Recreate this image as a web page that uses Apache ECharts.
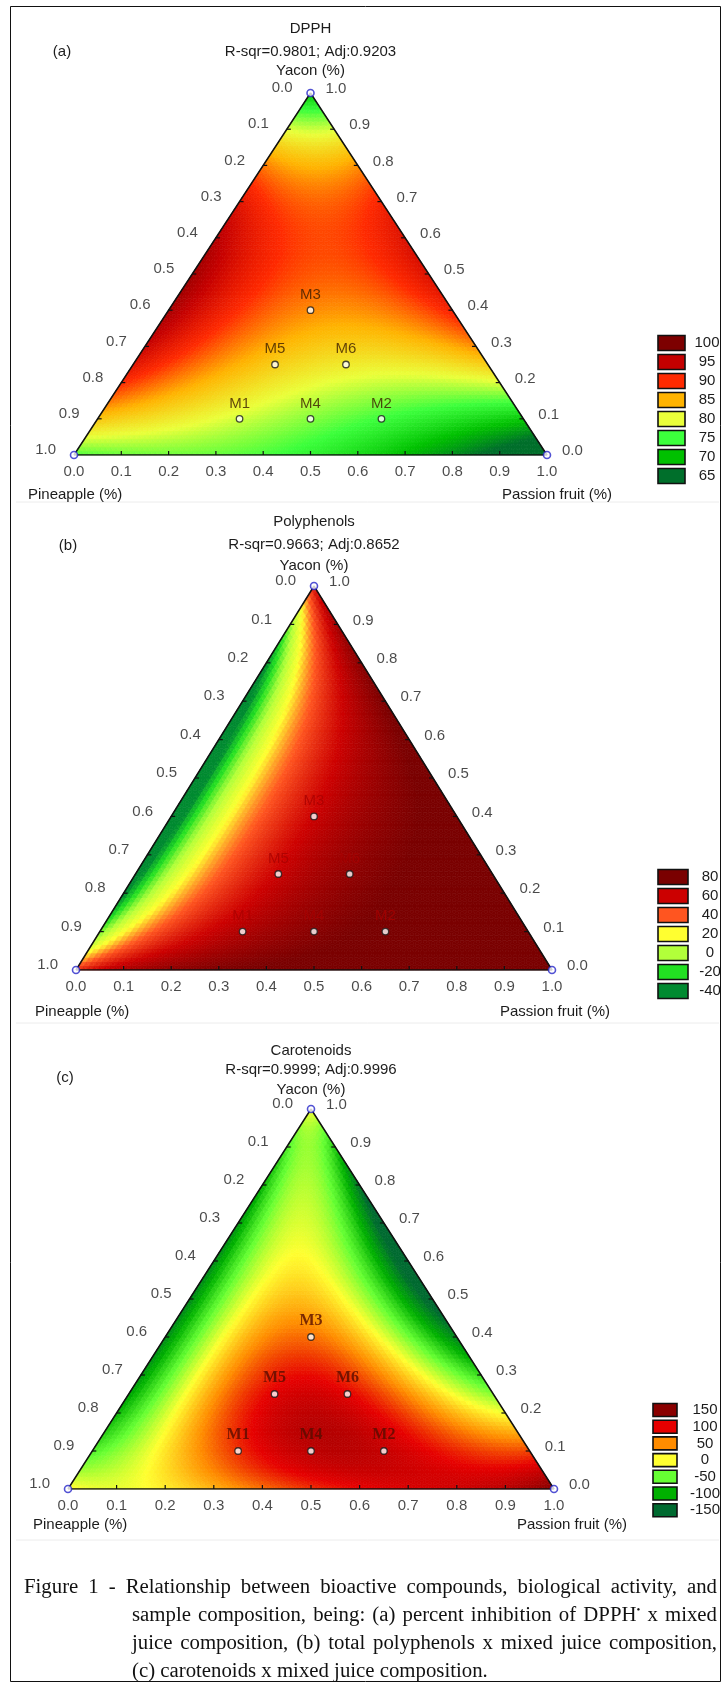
<!DOCTYPE html>
<html>
<head>
<meta charset="utf-8">
<script src="https://cdn.jsdelivr.net/npm/echarts@6/dist/echarts.min.js"></script>
<style>
  html, body { margin: 0; padding: 0; background: #fff; }
  #chart { position: absolute; left: 0; top: 0; width: 723px; height: 1683px; }
  #caption { position: absolute; left: 24px; top: 1572px; width: 693px;
    font-family: "Liberation Serif", "Times New Roman", serif; font-size: 20.8px;
    line-height: 28px; color: #111; }
  #caption .ln { text-align: justify; text-align-last: justify; white-space: nowrap; }
  #caption .ln.ind { margin-left: 108px; }
  #caption .ln.last { text-align-last: left; }
  #caption sup { font-size: 11px; line-height: 0; }
</style>
</head>
<body>
<div id="chart"></div>
<div id="caption">
  <div class="ln">Figure 1 - Relationship between bioactive compounds, biological activity, and</div>
  <div class="ln ind">sample composition, being: (a) percent inhibition of DPPH<sup>•</sup> x mixed</div>
  <div class="ln ind">juice composition, (b) total polyphenols x mixed juice composition,</div>
  <div class="ln ind last">(c) carotenoids x mixed juice composition.</div>
</div>
<script>
// ---- mixture design points (fractions of pineapple, passion fruit, yacon) ----
const sampleNames  = ['M1', 'M2', 'M3', 'M4', 'M5', 'M6'];
const pineapple    = [0.60, 0.30, 0.30, 0.45, 0.45, 0.30];
const passionFruit = [0.30, 0.60, 0.30, 0.45, 0.30, 0.45];
const yacon        = [0.10, 0.10, 0.40, 0.10, 0.25, 0.25];

// ---- ternary axis ticks ----
const tickValues = [0, 0.1, 0.2, 0.3, 0.4, 0.5, 0.6, 0.7, 0.8, 0.9, 1.0];

// ---- panel texts ----
const panelTitles = ['DPPH', 'Polyphenols', 'Carotenoids'];
const panelTags   = ['(a)', '(b)', '(c)'];
const fitStats    = ['R-sqr=0.9801; Adj:0.9203', 'R-sqr=0.9663; Adj:0.8652', 'R-sqr=0.9999; Adj:0.9996'];
const axisNames   = ['Pineapple (%)', 'Passion fruit (%)', 'Yacon (%)'];

// ---- contour legends ----
const dpphLevels = [100, 95, 90, 85, 80, 75, 70, 65];
const dpphColors = ['#7d0000', '#c40000', '#ff2a00', '#ffb300', '#eaff3a', '#3cff3c', '#00c000', '#006f2b'];
const polyLevels = [80, 60, 40, 20, 0, -20, -40];
const polyColors = ['#7a0000', '#cc0000', '#ff5520', '#ffff30', '#b2ff3a', '#22e022', '#008a30'];
const caroLevels = [150, 100, 50, 0, -50, -100, -150];
const caroColors = ['#8a0000', '#e60000', '#ff8c00', '#ffff30', '#66ff33', '#00b000', '#006a30'];

// ---- fitted response-surface models ----
// monomial exponents of (pineapple, passion fruit, yacon)
const modelTerms = [
  [1,0,0], [0,1,0], [0,0,1],
  [1,1,0], [1,0,1], [0,1,1],
  [1,1,1],
  [2,1,0], [1,2,0], [0,2,1], [0,1,2],
  [2,2,0], [2,0,2], [0,2,2],
  [1,1,2], [1,1,6], [2,2,1], [2,1,1]
];
const dpphCoef = [78, 62, 73, 26, 98, 112, -270, 0, 0, 0, 0, 0, 0, 0, 0, 0, 0, 0];
const caroCoef = [5, 155, 0, -365, -821.7, -862, 3200, -83, 83, 250, -250, 1500, 1167, -472, 3000, 22000, 6700, 3750];
// polyphenols: profile along the pineapple–yacon side rising towards a plateau with passion fruit
const polyEdge    = [60, 65, -774, 1137];
const polyPlateau = 95;
const polyRise    = [[0.45, 14], [0.55, 3.5]];

function scheffe(coef) {
  return function (x1, x2, x3) {
    let v = 0;
    for (let k = 0; k < modelTerms.length; k++) {
      const e = modelTerms[k];
      v += coef[k] * Math.pow(x1, e[0]) * Math.pow(x2, e[1]) * Math.pow(x3, e[2]);
    }
    return v;
  };
}
function polyphenolSurface(x1, x2, x3) {
  const s = x1 + x3;
  const t = s > 1e-9 ? x3 / s : 0.5;
  const u = t * (1 - t);
  const edge = polyEdge[0] * (1 - t) + polyEdge[1] * t + polyEdge[2] * u + polyEdge[3] * u * u;
  let decay = 0;
  for (const [w, k] of polyRise) decay += w * Math.pow(1 - x2, k);
  return polyPlateau - (polyPlateau - edge) * decay;
}

const MARK_SANS  = '"Liberation Sans", Arial, sans-serif';
const MARK_SERIF = '"Liberation Serif", "Times New Roman", serif';

// colour bands: each legend colour sits at the middle of its band (bandShift above the level)
const panels = [
  { surface: scheffe(dpphCoef), levels: dpphLevels, colors: dpphColors, bandShift: 2.5,
    grid: { left: 74, top: 93, width: 473, height: 362 },
    titleY: 29, rsqY: 52, yaconY: 71, tagX: 62, tagY: 52, nameY: 495, pineX: 28, passionR: 612,
    legX: 658, legW: 27, legH: 15, legY0: 343, legStep: 19, legTextX: 707,
    markColor: '#3a1c00', markFamily: MARK_SANS, markSize: 15, markWeight: 'normal' },
  { surface: polyphenolSurface, levels: polyLevels, colors: polyColors, bandShift: 10,
    grid: { left: 76, top: 586, width: 476, height: 384 },
    titleY: 522, rsqY: 545, yaconY: 566, tagX: 68, tagY: 546, nameY: 1012, pineX: 35, passionR: 610,
    legX: 658, legW: 30, legH: 15, legY0: 877, legStep: 19, legTextX: 710,
    markColor: '#a80000', markFamily: MARK_SANS, markSize: 15, markWeight: 'normal' },
  { surface: scheffe(caroCoef), levels: caroLevels, colors: caroColors, bandShift: 0,
    grid: { left: 68, top: 1109, width: 486, height: 380 },
    titleY: 1051, rsqY: 1070, yaconY: 1090, tagX: 65, tagY: 1078, nameY: 1525, pineX: 33, passionR: 627,
    legX: 653, legW: 24, legH: 13, legY0: 1410, legStep: 16.7, legTextX: 705,
    markColor: '#560c00', markFamily: MARK_SERIF, markSize: 16, markWeight: 'bold' }
];

// ternary -> cartesian (x along base, y = yacon)
function tern(pf, yac) { return [pf + yac / 2, yac]; }

const N = 90;
function latticeCells(surface) {
  const out = [];
  for (let j = 0; j < N; j++) {
    for (let i = 0; i + j < N; i++) {
      let pf = (3 * i + 1) / (3 * N), yc = (3 * j + 1) / (3 * N);
      out.push([i, j, 0, surface(1 - pf - yc, pf, yc)]);
      if (i + j < N - 1) {
        pf = (3 * i + 2) / (3 * N); yc = (3 * j + 2) / (3 * N);
        out.push([i, j, 1, surface(1 - pf - yc, pf, yc)]);
      }
    }
  }
  return out;
}
function renderCell(params, api) {
  const i = api.value(0), j = api.value(1), o = api.value(2);
  const pts = o === 0 ? [[i, j], [i + 1, j], [i, j + 1]] : [[i + 1, j], [i, j + 1], [i + 1, j + 1]];
  const poly = pts.map(p => api.coord(tern(p[0] / N, p[1] / N)));
  const c = api.visual('color');
  return { type: 'polygon', shape: { points: poly }, style: { fill: c, stroke: c, lineWidth: 0.7 } };
}
function renderTick(params, api) {
  const edge = api.value(0), v = api.value(1);
  let p, d;
  if (edge === 0) { p = api.coord(tern(v, 0)); d = [0, -4]; }
  else if (edge === 1) { p = api.coord(tern(0, 1 - v)); d = [4, 0]; }
  else { p = api.coord(tern(1 - v, v)); d = [-4, 0]; }
  return { type: 'line', shape: { x1: p[0], y1: p[1], x2: p[0] + d[0], y2: p[1] + d[1] },
           style: { stroke: '#111', lineWidth: 1.2 } };
}

const TEXT_FONT = '"Liberation Sans", Arial, sans-serif';
const grids = [], xAxes = [], yAxes = [], series = [], visualMaps = [], graphics = [];

function txt(x, y, text, extra) {
  return { type: 'text', x: x, y: y, silent: true, z: 100,
    style: Object.assign({ text: text, fill: '#1c1c1c', font: '15px ' + TEXT_FONT,
      textAlign: 'center', textVerticalAlign: 'middle', align: 'center', verticalAlign: 'middle' }, extra || {}) };
}

panels.forEach((P, k) => {
  grids.push(Object.assign({ containLabel: false }, P.grid));
  xAxes.push({ type: 'value', gridIndex: k, min: 0, max: 1, show: false });
  yAxes.push({ type: 'value', gridIndex: k, min: 0, max: 1, show: false });
  const base = { xAxisIndex: k, yAxisIndex: k };

  const surfIndex = series.length;
  series.push(Object.assign({ type: 'custom', name: panelTitles[k], renderItem: renderCell,
    data: latticeCells(P.surface), progressive: 0, silent: true, z: 1,
    encode: { x: -1, y: -1 } }, base));
  visualMaps.push({ type: 'continuous', show: false, seriesIndex: surfIndex, dimension: 3,
    min: P.levels[P.levels.length - 1] + P.bandShift, max: P.levels[0] + P.bandShift,
    inRange: { color: P.colors.slice().reverse() } });

  // triangle outline
  series.push(Object.assign({ type: 'line', data: [tern(0, 0), tern(1, 0), tern(0, 1), tern(0, 0)],
    symbol: 'none', silent: true, z: 5, lineStyle: { color: '#111', width: 1.5 } }, base));

  // tick marks
  const ticks = [];
  tickValues.slice(1, -1).forEach(v => { ticks.push([0, v]); ticks.push([1, v]); ticks.push([2, v]); });
  series.push(Object.assign({ type: 'custom', renderItem: renderTick, data: ticks, silent: true, z: 6,
    encode: { x: -1, y: -1 } }, base));

  const labelStyle = { show: true, color: '#1c1c1c', fontSize: 15, fontFamily: TEXT_FONT,
    formatter: p => p.value[2] };
  // passion fruit scale along the base
  series.push(Object.assign({ type: 'scatter', symbolSize: 0, silent: true, z: 7,
    data: tickValues.map(v => tern(v, 0).concat(v.toFixed(1))),
    label: Object.assign({ position: 'bottom', distance: 9 }, labelStyle) }, base));
  // pineapple scale along the left side
  series.push(Object.assign({ type: 'scatter', symbolSize: 0, silent: true, z: 7,
    data: tickValues.map(v => tern(0, 1 - v).concat(v.toFixed(1))),
    label: Object.assign({ position: 'left', distance: 18, offset: [0, -5] }, labelStyle) }, base));
  // yacon scale along the right side
  series.push(Object.assign({ type: 'scatter', symbolSize: 0, silent: true, z: 7,
    data: tickValues.map(v => tern(1 - v, v).concat(v.toFixed(1))),
    label: Object.assign({ position: 'right', distance: 15, offset: [0, -4] }, labelStyle) }, base));

  // pure-component vertices
  series.push(Object.assign({ type: 'scatter', data: [tern(0, 0), tern(1, 0), tern(0, 1)],
    symbol: 'circle', symbolSize: 7, silent: true, z: 8,
    itemStyle: { color: '#fff', borderColor: '#2626c8', borderWidth: 1.6 } }, base));

  // design points
  series.push(Object.assign({ type: 'scatter', silent: true, z: 9,
    data: sampleNames.map((n, i) => tern(passionFruit[i], yacon[i]).concat(n)),
    symbol: 'circle', symbolSize: 6.5,
    itemStyle: { color: '#fff', borderColor: '#1a1a1a', borderWidth: 1.3 },
    label: { show: true, position: 'top', distance: 4, formatter: p => p.value[2],
      color: P.markColor, fontSize: P.markSize, fontWeight: P.markWeight, fontFamily: P.markFamily }
  }, base));

  // titles and axis names
  const cx = P.grid.left + P.grid.width / 2;
  graphics.push(txt(cx, P.titleY, panelTitles[k]));
  graphics.push(txt(cx, P.rsqY, fitStats[k]));
  graphics.push(txt(cx, P.yaconY, axisNames[2]));
  graphics.push(txt(P.tagX, P.tagY, panelTags[k]));
  graphics.push(txt(P.pineX, P.nameY, axisNames[0], { textAlign: 'left', align: 'left' }));
  graphics.push(txt(P.passionR, P.nameY, axisNames[1], { textAlign: 'right', align: 'right' }));

  // legend boxes
  P.levels.forEach((lv, i) => {
    const yc = P.legY0 + i * P.legStep;
    graphics.push({ type: 'rect', silent: true, z: 100,
      shape: { x: P.legX, y: yc - P.legH / 2, width: P.legW, height: P.legH },
      style: { fill: P.colors[i], stroke: '#111', lineWidth: 1.6 } });
    graphics.push(txt(P.legTextX, yc, String(lv)));
  });
});

// faint panel separators and outer frame
[502, 1023, 1540].forEach(y => graphics.push({ type: 'line', silent: true, z: 90,
  shape: { x1: 16, y1: y, x2: 719, y2: y }, style: { stroke: '#ececec', lineWidth: 1 } }));
graphics.push({ type: 'rect', silent: true, z: 110,
  shape: { x: 10.5, y: 6.5, width: 710, height: 1675 },
  style: { fill: 'none', stroke: '#111', lineWidth: 1 } });

const chart = echarts.init(document.getElementById('chart'), null, { renderer: 'canvas' });
chart.setOption({
  animation: false,
  backgroundColor: '#fff',
  grid: grids,
  xAxis: xAxes,
  yAxis: yAxes,
  visualMap: visualMaps,
  series: series,
  graphic: { elements: graphics }
});
</script>
</body>
</html>
